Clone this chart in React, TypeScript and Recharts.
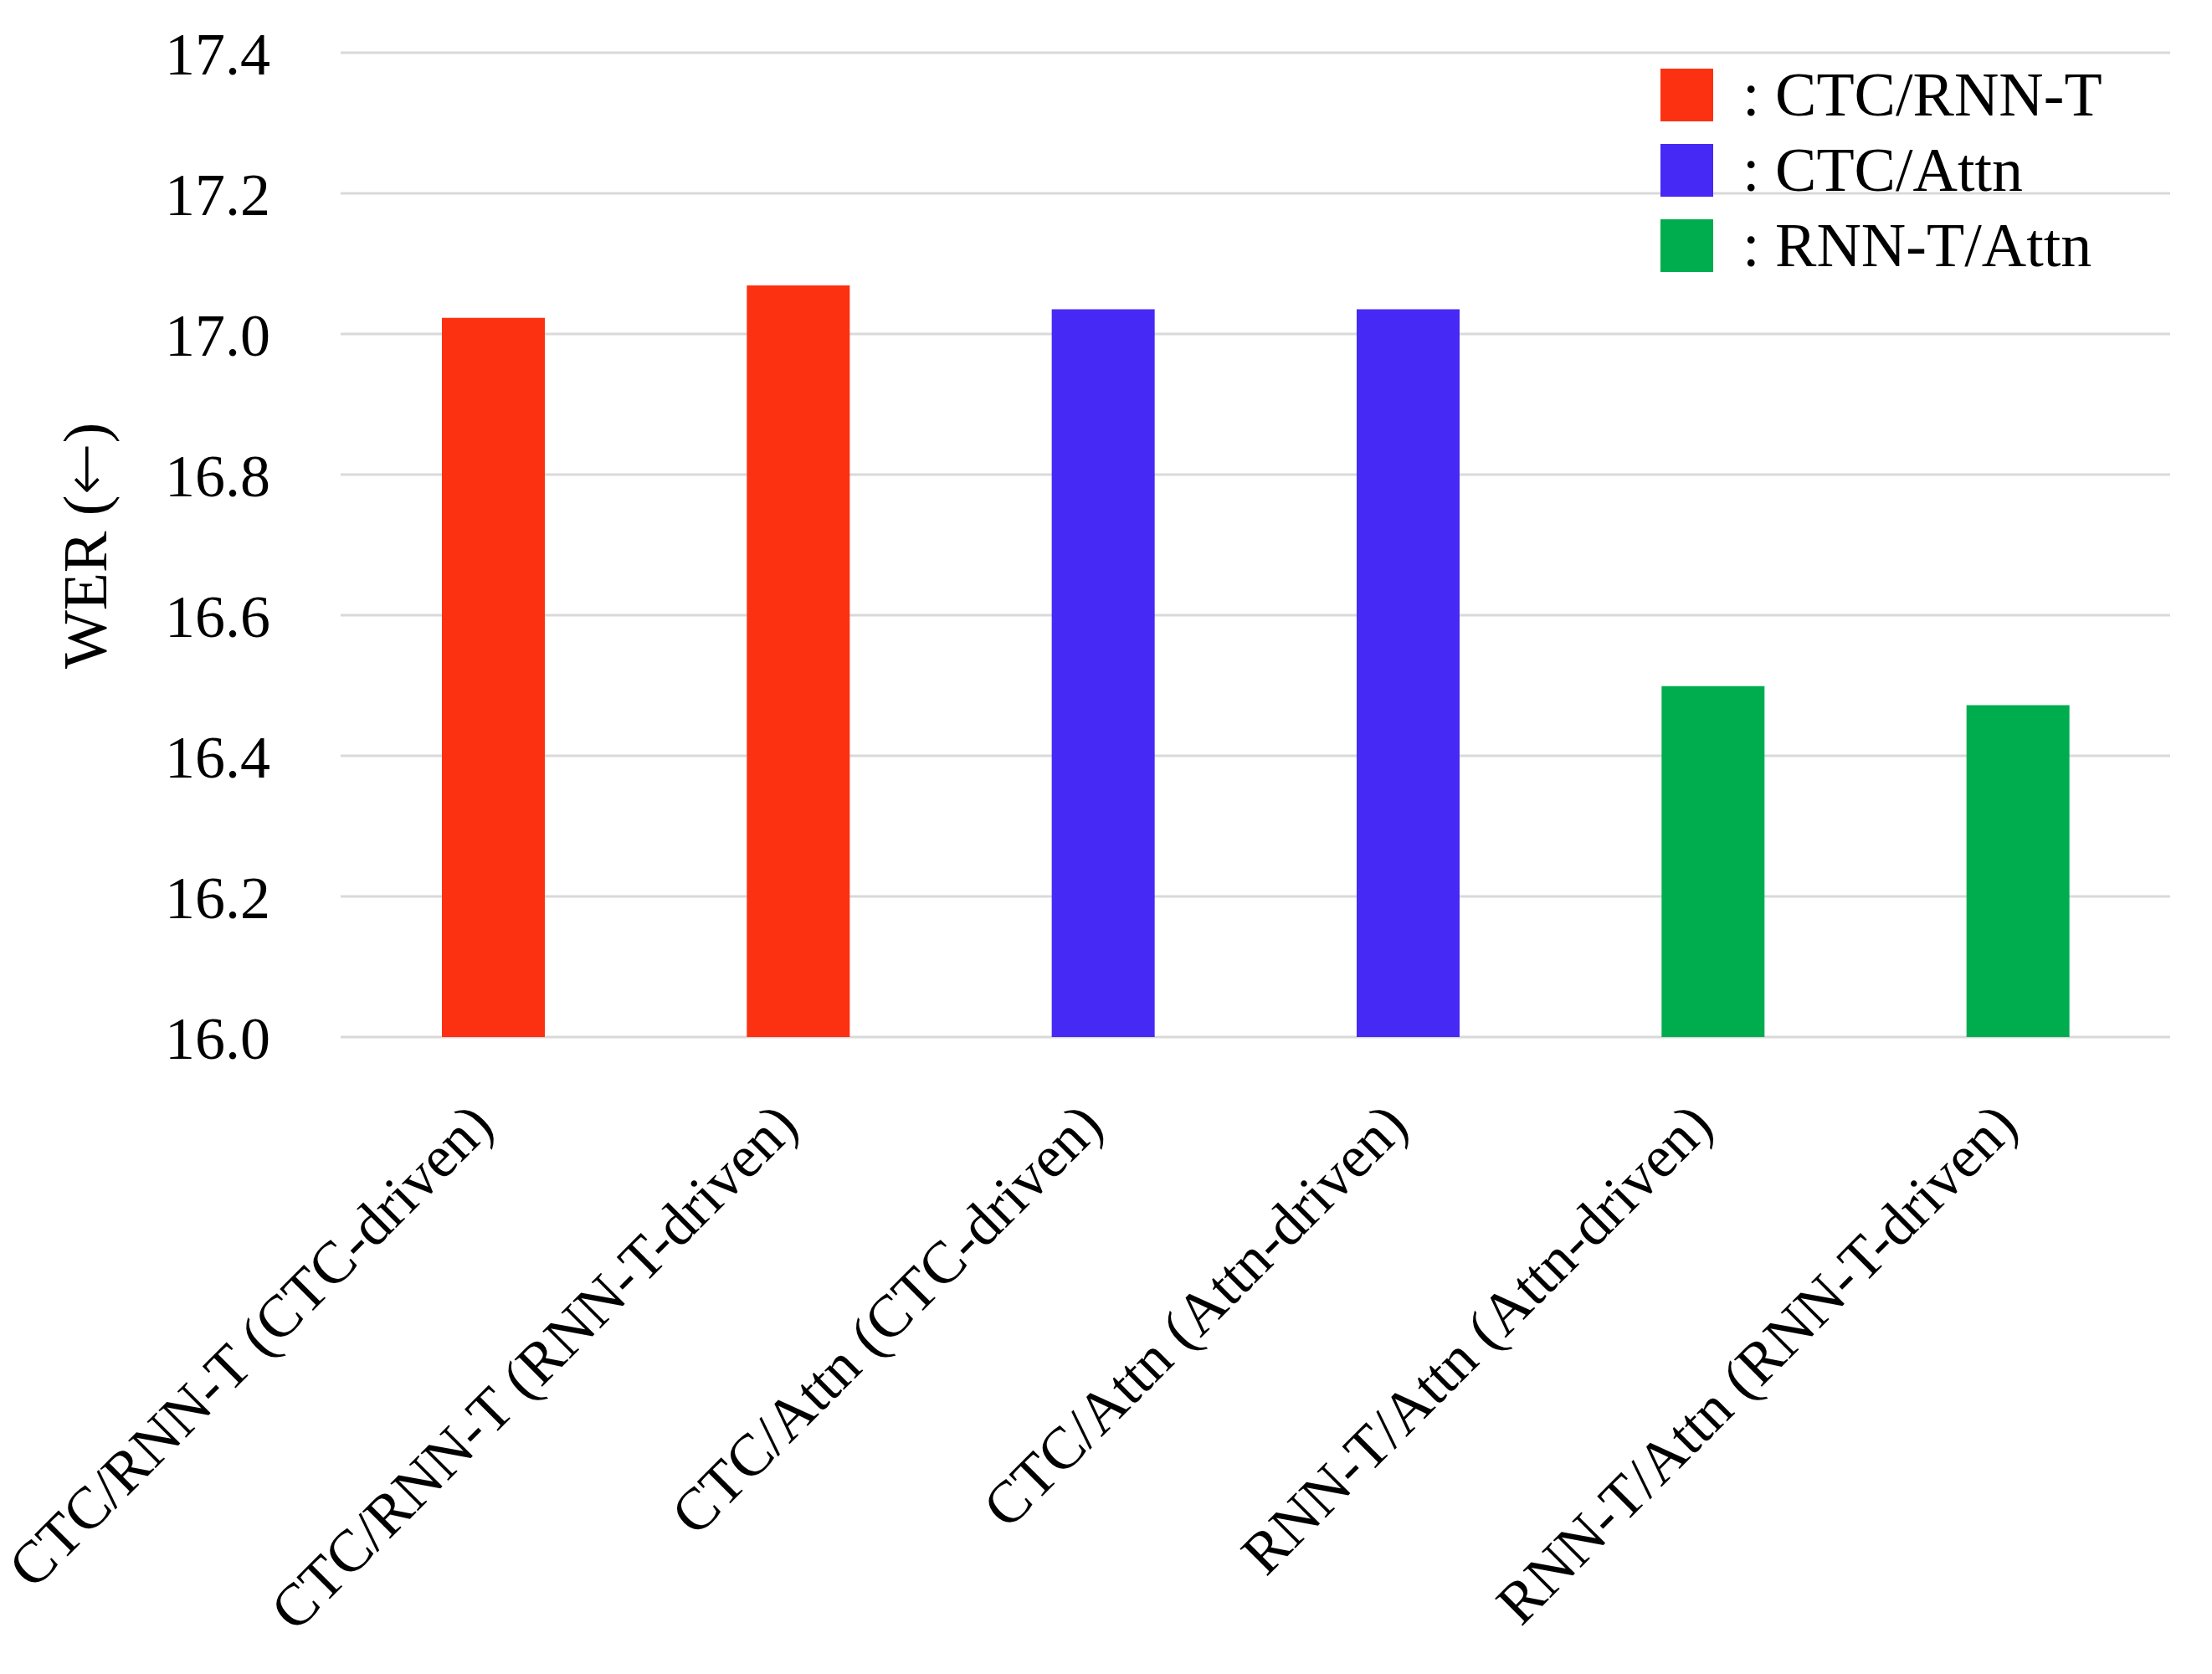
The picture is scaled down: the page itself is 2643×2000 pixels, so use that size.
import { BarChart, Bar, XAxis, YAxis, CartesianGrid, Legend, Cell } from 'recharts';

const models = [
  'CTC/RNN-T (CTC-driven)',
  'CTC/RNN-T (RNN-T-driven)',
  'CTC/Attn (CTC-driven)',
  'CTC/Attn (Attn-driven)',
  'RNN-T/Attn (Attn-driven)',
  'RNN-T/Attn (RNN-T-driven)',
];
const wer = [17.023, 17.069, 17.035, 17.035, 16.499, 16.472];
const groupOf = [0, 0, 1, 1, 2, 2];
const groups = ['CTC/RNN-T', 'CTC/Attn', 'RNN-T/Attn'];
const groupColors = ['#FC3112', '#4629F4', '#00AD4E'];
const yTicks = [16.0, 16.2, 16.4, 16.6, 16.8, 17.0, 17.2, 17.4];

const data = models.map((m, i) => ({ name: m, wer: wer[i], group: groupOf[i] }));

const FONT = '"Liberation Serif", "Times New Roman", serif';

const XTick = (props: any) => {
  const { x, y, payload } = props;
  return (
    <g transform={`translate(${x + 3},${y + 107})`}>
      <text textAnchor="end" transform="rotate(-45)" fontSize={71} fontFamily={FONT} fill="#000">
        {payload.value}
      </text>
    </g>
  );
};

const renderLegend = () => (
  <div style={{ fontFamily: FONT }}>
    {groups.map((g, i) => (
      <div key={g} style={{ display: 'flex', alignItems: 'center', height: 90 }}>
        <div style={{ width: 63, height: 63, background: groupColors[i], marginRight: 35 }} />
        <span style={{ fontSize: 74, lineHeight: 1, color: '#000', whiteSpace: 'nowrap' }}>: {g}</span>
      </div>
    ))}
  </div>
);

// y label; arrow drawn with DejaVu so it is long like the original
const YLabel = () => (
  <text x={127} y={652} transform="rotate(-90, 127, 652)" textAnchor="middle" fontSize={74} fontFamily={FONT} fill="#000">
    WER (<tspan fontFamily='"DejaVu Sans", sans-serif' fontWeight={300}>←</tspan>)
  </text>
);

export default function App() {
  return (
    <div style={{ position: 'absolute', left: 0, top: 0, background: '#fff' }}>
      <BarChart width={2643} height={2000} data={data} margin={{ top: 63, right: 50, left: 0, bottom: 0 }}>
        <CartesianGrid vertical={false} stroke="#d9d9d9" strokeWidth={3} />
        <XAxis
          dataKey="name"
          height={761}
          axisLine={false}
          tickLine={false}
          tickSize={0}
          interval={0}
          tick={<XTick />}
        />
        <YAxis
          width={407}
          domain={[16, 17.4]}
          ticks={yTicks}
          allowDataOverflow
          axisLine={false}
          tickLine={false}
          tickSize={0}
          tickMargin={84}
          tickFormatter={(v: number) => v.toFixed(1)}
          tick={{ fontSize: 72, fill: '#000', fontFamily: FONT }}
          label={{ content: <YLabel /> }}
        />
        <Legend
          layout="vertical"
          align="center"
          verticalAlign="middle"
          content={renderLegend}
          wrapperStyle={{ top: 68, left: 1984, width: 620 }}
        />
        <Bar dataKey="wer" barSize={123} isAnimationActive={false}>
          {data.map((d, i) => (
            <Cell key={i} fill={groupColors[d.group]} />
          ))}
        </Bar>
      </BarChart>
    </div>
  );
}
